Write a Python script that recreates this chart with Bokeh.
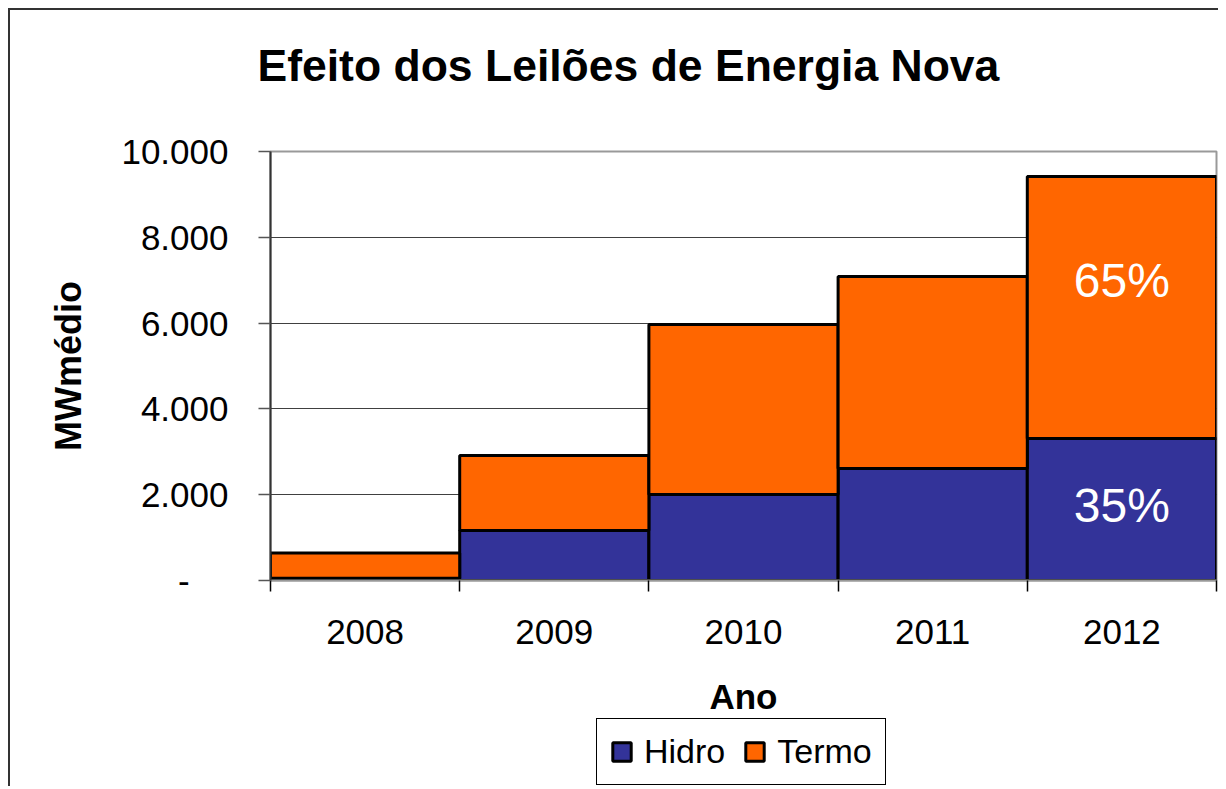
from bokeh.plotting import figure
from bokeh.layouts import column
from bokeh.models import FixedTicker, Legend, LegendItem, Title, ColumnDataSource, Range1d
from bokeh.embed import file_html
from bokeh.resources import INLINE
from bokeh.core.properties import value

# ---- data ----
years = [2008, 2009, 2010, 2011, 2012]
hidro = [50, 1165, 2005, 2610, 3310]
termo = [590, 1750, 3960, 4475, 6105]
series = ["Hidro", "Termo"]
colors = ["#333399", "#FF6600"]
y_ticks = [0, 2000, 4000, 6000, 8000, 10000]
y_tick_labels = ["-", "2.000", "4.000", "6.000", "8.000", "10.000"]
title_text = "Efeito dos Leilões de Energia Nova"
x_title = "Ano"
y_title = "MWmédio"

FONT = "Liberation Sans"
W = 1208

# percentage shares for the last year
last_total = hidro[-1] + termo[-1]
pct_labels = [f"{round(100 * hidro[-1] / last_total)}%", f"{round(100 * termo[-1] / last_total)}%"]
pct_x = [years[-1], years[-1]]
pct_y = [1750, 7000]  # label placement

# ---------- header with the title ----------
hdr = figure(width=W, height=111, x_range=Range1d(0, 1), y_range=Range1d(0, 1),
             output_backend="svg", toolbar_location=None,
             min_border_left=260, min_border_right=2, min_border_top=0, min_border_bottom=0)
hdr.axis.visible = False
hdr.grid.visible = False
hdr.outline_line_color = None
hdr.border_fill_color = "white"
hdr.title = Title(text=title_text, align="left", offset=-13,
                  text_font=FONT, text_font_size="44.5px", text_font_style="bold",
                  text_color="black", standoff=56)

# ---------- main chart ----------
p = figure(width=W, height=30 + 429 + 138,
           x_range=Range1d(years[0] - 0.5, years[-1] + 0.5),
           y_range=Range1d(0, 10000),
           output_backend="svg", toolbar_location=None,
           min_border_left=260, min_border_right=2,
           min_border_top=30, min_border_bottom=138)

src = ColumnDataSource(dict(year=years, Hidro=hidro, Termo=termo))
rs = p.vbar_stack(series, x="year", width=1.0, fill_color=colors,
                  line_color="black", line_width=3, source=src)

p.text(x=pct_x, y=pct_y, text=pct_labels, text_color="white",
       text_font=value(FONT), text_font_size="48px",
       text_align="center", text_baseline="middle")

# x axis
p.xaxis.ticker = FixedTicker(ticks=years, minor_ticks=[y - 0.5 for y in years] + [years[-1] + 0.5])
p.xaxis.major_tick_out = 0
p.xaxis.major_tick_in = 0
p.xaxis.minor_tick_out = 11
p.xaxis.minor_tick_in = 0
p.xaxis.minor_tick_line_color = "black"
p.xaxis.minor_tick_line_width = 1.5
p.xaxis.major_label_standoff = 28
p.xaxis.major_label_text_font = FONT
p.xaxis.major_label_text_font_size = "35px"
p.xaxis.major_label_text_color = "black"
p.xaxis.axis_line_color = "#999999"
p.xaxis.axis_line_width = 2
p.xaxis.axis_label = x_title
p.xaxis.axis_label_text_font = FONT
p.xaxis.axis_label_text_font_size = "35px"
p.xaxis.axis_label_text_font_style = "bold"
p.xaxis.axis_label_text_color = "black"
p.xaxis.axis_label_standoff = 30

# y axis
overrides = {}
for t, lbl in zip(y_ticks, y_tick_labels):
    overrides[t] = lbl + "\u00a0" * 4 if lbl == "-" else lbl
p.yaxis.ticker = FixedTicker(ticks=y_ticks)
p.yaxis.major_label_overrides = overrides
p.yaxis.minor_tick_line_color = None
p.yaxis.major_tick_out = 12
p.yaxis.major_tick_in = 0
p.yaxis.major_tick_line_color = "#555555"
p.yaxis.major_tick_line_width = 1.5
p.yaxis.major_label_standoff = 30
p.yaxis.major_label_text_font = FONT
p.yaxis.major_label_text_font_size = "35px"
p.yaxis.major_label_text_color = "black"
p.yaxis.axis_line_color = "#333333"
p.yaxis.axis_line_width = 2
p.yaxis.axis_label = y_title
p.yaxis.axis_label_text_font = FONT
p.yaxis.axis_label_text_font_size = "36px"
p.yaxis.axis_label_text_font_style = "bold"
p.yaxis.axis_label_text_color = "black"
p.yaxis.axis_label_standoff = 29

# grid / frame
p.xgrid.visible = False
p.ygrid.ticker = FixedTicker(ticks=y_ticks[1:-1])
p.ygrid.grid_line_color = "#404040"
p.ygrid.grid_line_width = 1
p.outline_line_color = "#999999"
p.outline_line_width = 2
p.background_fill_color = "white"
p.border_fill_color = "white"

# ---------- legend strip below the chart ----------
lg = figure(width=W, height=68, x_range=Range1d(years[0] - 0.5, years[-1] + 0.5),
            y_range=Range1d(0, 10000),
            output_backend="svg", toolbar_location=None,
            min_border_left=260, min_border_right=2, min_border_top=0, min_border_bottom=0)
lg.axis.visible = False
lg.grid.visible = False
lg.outline_line_color = None
lg.border_fill_color = "white"
# same stacked series, hidden here, only to supply the legend swatches
lg_rs = lg.vbar_stack(series, x="year", width=1.0, fill_color=colors,
                      line_color="black", line_width=3, source=src)
for r in lg_rs:
    r.visible = False
legend = Legend(items=[LegendItem(label=s, renderers=[r]) for s, r in zip(series, lg_rs)],
                orientation="horizontal", location=(326, 1), margin=0,
                padding=13, spacing=18, label_standoff=11,
                glyph_width=23, glyph_height=23,
                label_text_font=FONT, label_text_font_size="34px", label_text_color="black",
                border_line_color="black", border_line_width=1.5, border_line_alpha=1.0,
                background_fill_color="white", background_fill_alpha=1.0,
                inactive_fill_alpha=0.0)
lg.add_layout(legend)

layout = column(hdr, p, lg, spacing=0)
layout.styles = {"margin-left": "8px", "margin-top": "8px",
                 "border-left": "2px solid #333333", "border-top": "2px solid #333333"}

open("out.html", "w").write(file_html(layout, INLINE))
